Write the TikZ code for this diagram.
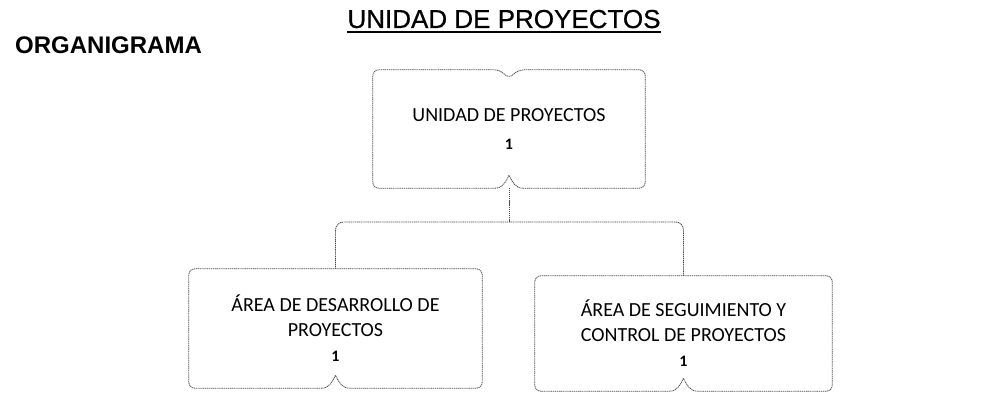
\documentclass[tikz,border=0pt]{standalone}
\usepackage{fontspec}
\setmainfont{Liberation Sans}
\newfontfamily\titlefont[FakeBold=0.6]{Liberation Sans}
\newfontfamily\calib{Carlito}
\usetikzlibrary{calc}
\newcommand\orgoutline[1]{%
  \draw[boxline, rounded corners=6pt] ($(#1.south)+(14pt,0)$) -- (#1.south east) -- (#1.north east) -- (#1.north west) -- (#1.south west) -- ($(#1.south)+(-14pt,0)$);
  \draw[boxline] ($(#1.south)+(-14pt,0)$) to[out=0,in=-115] ($(#1.south)+(0,13pt)$) to[out=-65,in=180] ($(#1.south)+(14pt,0)$);
}
\begin{document}
\begin{tikzpicture}[x=1pt,y=1pt,
  boxline/.style={draw=black!70, line width=0.8pt, dash pattern=on 1.2pt off 0.7pt},
  conn/.style={draw=black!70, line width=0.8pt, dash pattern=on 1.2pt off 0.7pt, rounded corners=8pt},
  boxtext/.style={align=center, font=\calib\fontsize{20}{25}\selectfont, inner sep=0pt},
  boxshape/.style={draw=none, inner sep=0pt}]
\useasboundingbox (0,0) rectangle (998,396);
\fill[white] (0,0) rectangle (998,396);
% headings
\node[anchor=base, font=\titlefont\fontsize{26}{30}\selectfont, inner sep=0pt] (title) at (504,368) {UNIDAD DE PROYECTOS};
\draw[line width=1.6pt] ($(title.base west)+(0,-4pt)$) -- ($(title.base east)+(0,-4pt)$);
\node[anchor=base west, font=\bfseries\fontsize{24}{28}\selectfont, inner sep=0pt] (org) at (15,342) {ORGANIGRAMA};
% boxes
\node[boxshape, minimum width=272pt, minimum height=118pt] (top) at (509,267) {};
\node[boxshape, minimum width=293pt, minimum height=119pt] (left) at (335.5,67.5) {};
\node[boxshape, minimum width=297pt, minimum height=115pt] (right) at (683.5,62.5) {};
% top box outline with top notch
\draw[boxline, rounded corners=6pt] ($(top.south)+(14pt,0)$) -- (top.south east) -- (top.north east) -- ($(top.north)+(9pt,0)$) -- ($(top.north)+(0,-9pt)$) -- ($(top.north)+(-9pt,0)$) -- (top.north west) -- (top.south west) -- ($(top.south)+(-14pt,0)$);
\draw[boxline] ($(top.south)+(-14pt,0)$) to[out=0,in=-115] ($(top.south)+(0,13pt)$) to[out=-65,in=180] ($(top.south)+(14pt,0)$);
\orgoutline{left}
\orgoutline{right}
% texts
\node[boxtext] (toptext) at (top.center) {UNIDAD DE PROYECTOS\\[3pt]{\fontsize{16}{16}\selectfont\bfseries 1}};
\node[boxtext] (lefttext) at (left.center) {ÁREA DE DESARROLLO DE\\PROYECTOS\\{\fontsize{16}{16}\selectfont\bfseries 1}};
\node[boxtext] (righttext) at (right.center) {ÁREA DE SEGUIMIENTO Y\\CONTROL DE PROYECTOS\\{\fontsize{16}{16}\selectfont\bfseries 1}};
% connectors
\coordinate (bus) at (509,174);
\draw[conn] (top.south) -- (bus);
\draw[conn] (left.north) -- (left.north |- bus) -- (right.north |- bus) -- (right.north);
\end{tikzpicture}
\end{document}
